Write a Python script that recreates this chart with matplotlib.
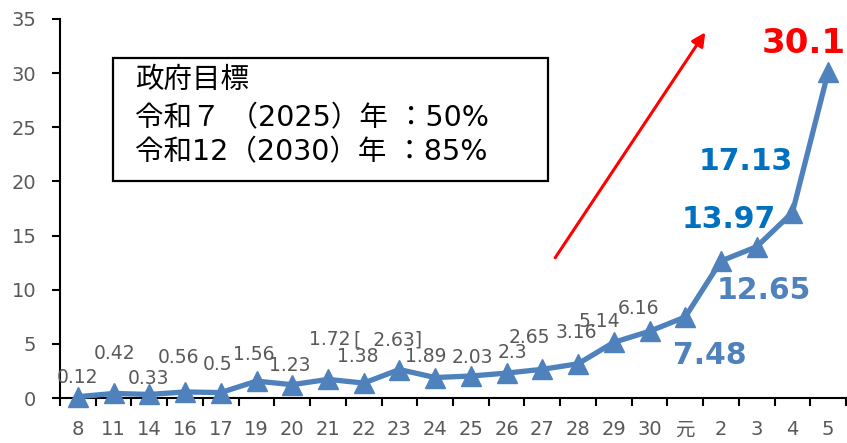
import matplotlib
matplotlib.use("Agg")
import matplotlib.pyplot as plt
from matplotlib.patches import Rectangle
import numpy as np

categories = ["8", "11", "14", "16", "17", "19", "20", "21", "22", "23", "24",
              "25", "26", "27", "28", "29", "30", "元", "2", "3", "4", "5"]
values = [0.12, 0.42, 0.33, 0.56, 0.5, 1.56, 1.23, 1.72, 1.38, 2.63, 1.89,
          2.03, 2.3, 2.65, 3.16, 5.14, 6.16, 7.48, 12.65, 13.97, 17.13, 30.1]
label_texts = ["0.12", "0.42", "0.33", "0.56", "0.5", "1.56", "1.23", "1.72",
               "1.38", "[  2.63]", "1.89", "2.03", "2.3", "2.65", "3.16", "5.14",
               "6.16", "7.48", "12.65", "13.97", "17.13", "30.1"]
yticks = [0, 5, 10, 15, 20, 25, 30, 35]
box_lines = ["政府目標", "令和７ （2025）年 ：50%", "令和12（2030）年 ：85%"]

# label offsets in pixels (dx, dy) relative to each point
offsets = [(0, 19), (1, 40), (-1, 16), (-7, 34), (-3, 28), (-3, 27), (-2, 19),
           (2, 40), (-6, 27), (-11, 30), (-9, 21), (2, 19), (6, 21), (-13, 32),
           (-2, 31), (-14, 21), (-11, 23), (25, -38), (43, -29), (-28, 27),
           (-47, 51), (-24, 29)]

LINE = "#4F81BD"
GRAY = "#595959"
DARKBLUE = "#0070C0"
FONTS = ["DejaVu Sans", "Noto Sans CJK JP"]
plt.rcParams["font.family"] = FONTS

fig = plt.figure(figsize=(8.47, 4.43), dpi=100)
ax = fig.add_axes([60 / 847, 45 / 443, 786 / 847, 379 / 443])

x = np.arange(len(categories))
ax.plot(x, values, color=LINE, lw=3.8, marker="^", markersize=15,
        markeredgecolor=LINE, markerfacecolor=LINE, clip_on=False, zorder=3)

ax.set_xlim(-0.5, len(categories) - 0.5)
ax.set_ylim(0, 35)
ax.set_yticks(yticks)
ax.set_xticks(x)
ax.set_xticklabels(categories)
ax.set_xticks(np.arange(-0.5, len(categories), 1), minor=True)
ax.tick_params(axis="x", which="major", length=0, pad=16, labelsize=14,
               labelcolor=GRAY)
ax.tick_params(axis="x", which="minor", length=6, width=1.5, direction="out")
ax.tick_params(axis="y", length=6, width=1.5, pad=11, labelsize=14,
               labelcolor=GRAY)
for s in ["top", "right"]:
    ax.spines[s].set_visible(False)
for s in ["left", "bottom"]:
    ax.spines[s].set_linewidth(1.5)

n = len(values)
for i, (v, t, (dx, dy)) in enumerate(zip(values, label_texts, offsets)):
    if i == n - 1:
        kw = dict(fontsize=24.5, fontweight="bold", color="red")
    elif i >= n - 3:
        kw = dict(fontsize=21.5, fontweight="bold", color=DARKBLUE)
    elif i >= n - 5:
        kw = dict(fontsize=21.5, fontweight="bold", color=LINE)
    else:
        kw = dict(fontsize=13.5, color=GRAY)
    ax.annotate(t, xy=(i, v), xytext=(dx, dy), textcoords="offset pixels",
                ha="center", va="center", annotation_clip=False, **kw)

# red trend arrow
ax.annotate("", xy=(0.821, 0.965), xytext=(0.630, 0.370),
            xycoords="axes fraction", textcoords="axes fraction",
            arrowprops=dict(arrowstyle="-|>", color="red", lw=2.2,
                            mutation_scale=20, shrinkA=0, shrinkB=0))

# target box
ax.add_patch(Rectangle((0.0674, 0.5726), 0.5536, 0.3244, transform=ax.transAxes,
                       fill=True, facecolor="white", edgecolor="black", lw=1.6,
                       zorder=4))
for line, yy in zip(box_lines, [0.839, 0.739, 0.649]):
    ax.text(0.0954, yy, line, transform=ax.transAxes, fontsize=20.5,
            family=["DejaVu Sans", "Noto Sans CJK JP"], color="black",
            ha="left", va="center", zorder=5)

fig.savefig("out.png", dpi=100)
